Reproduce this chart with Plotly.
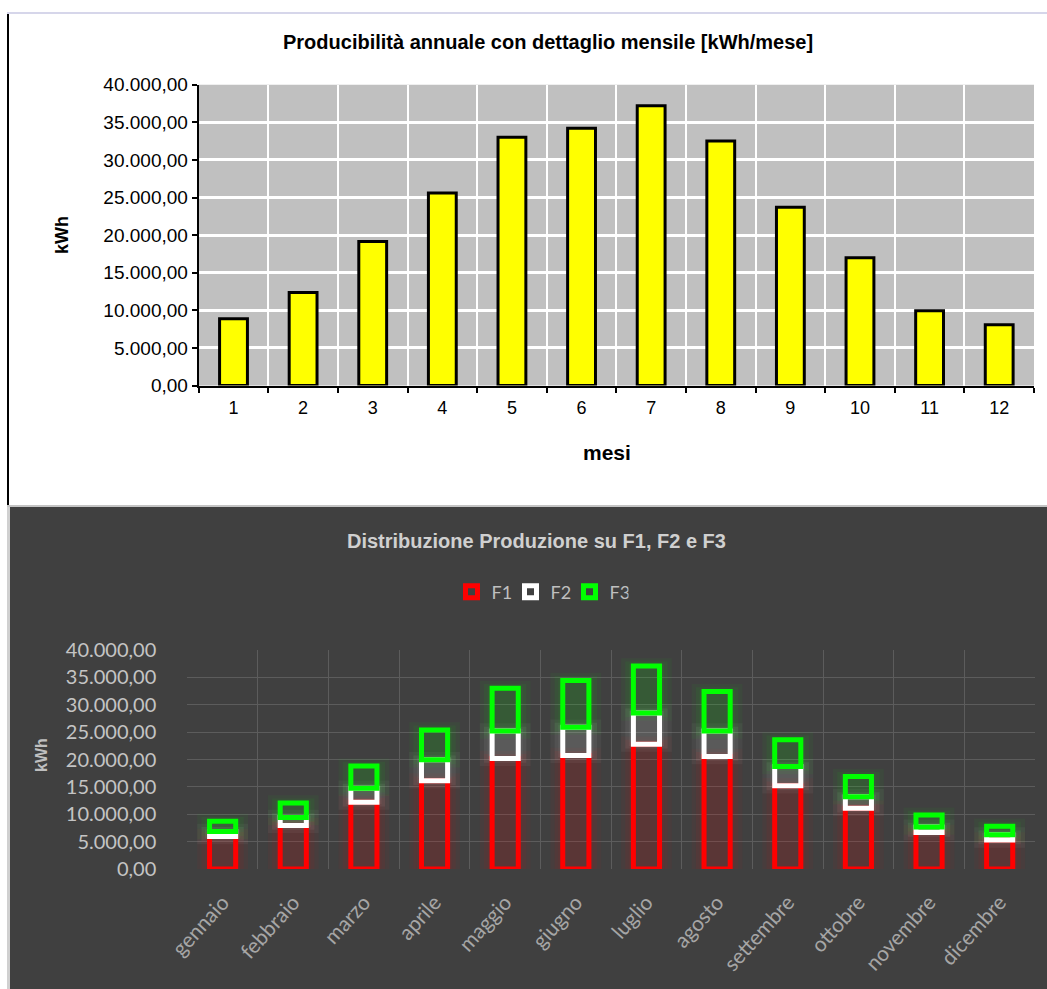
import plotly.graph_objects as go

# ---------------- data ----------------
month_nums = [str(i) for i in range(1, 13)]
month_names = ["gennaio", "febbraio", "marzo", "aprile", "maggio", "giugno",
               "luglio", "agosto", "settembre", "ottobre", "novembre", "dicembre"]
annual_kwh = [8870, 12370, 19160, 25600, 33000, 34200, 37200, 32500, 23700, 17000, 9930, 8070]
f1_kwh = [5940, 7960, 12200, 16100, 20200, 20750, 22800, 20550, 15200, 11100, 6670, 5300]
f2_kwh = [910, 1440, 2550, 3850, 5000, 5150, 5700, 4650, 3500, 2100, 980, 940]
f3_kwh = [1850, 2660, 4050, 5450, 7800, 8550, 8600, 7200, 4900, 3700, 2200, 1590]
series_names = ["F1", "F2", "F3"]
series_colors = [(255, 0, 0), (255, 255, 255), (0, 255, 0)]

W, H = 1047, 989
FONT = "Liberation Sans, Arial, sans-serif"
FONT2 = "Lato, Liberation Sans, sans-serif"

def px_x(p):
    return p / W

def px_y(p):
    return 1 - p / H

fig = go.Figure()

# ---------------- top chart ----------------
fig.add_trace(go.Bar(
    x=month_nums, y=annual_kwh, xaxis="x", yaxis="y",
    width=0.40,
    marker=dict(color="#ffff00", line=dict(color="#000000", width=3)),
    showlegend=False, name="kWh",
))

# ---------------- bottom chart ----------------
series = [f1_kwh, f2_kwh, f3_kwh]
bases = []
run = [0] * 12
for s in series:
    bases.append(list(run))
    run = [a + b for a, b in zip(run, s)]

# soft glow layers (base subplot)
glow_layers = [(0.72, 1400, 0.045), (0.60, 800, 0.055), (0.50, 350, 0.05)]
for s, b, (r, g, bl) in zip(series, bases, series_colors):
    for wdt, ext, alpha in glow_layers:
        fig.add_trace(go.Bar(
            x=month_names, y=[v + 2 * ext for v in s], base=[v - ext for v in b],
            xaxis="x2", yaxis="y2", width=wdt,
            marker=dict(color=f"rgba({r},{g},{bl},{alpha})", line=dict(width=0)),
            showlegend=False, hoverinfo="skip",
        ))

# main outlined stacked bars (overlay subplot)
for name, s, b, (r, g, bl) in zip(series_names, series, bases, series_colors):
    fig.add_trace(go.Bar(
        x=month_names, y=s, base=b, xaxis="x3", yaxis="y3", width=0.37,
        name=name,
        marker=dict(color="rgba(0,0,0,0)", line=dict(color=f"rgb({r},{g},{bl})", width=5)),
    ))

top_x = [px_x(198.7), px_x(1034)]
top_y = [px_y(385.5), px_y(84.7)]
bot_x = [px_x(187.3), px_x(1035)]
bot_y = [px_y(869), px_y(650)]

fig.update_layout(
    width=W, height=H,
    margin=dict(l=0, r=0, t=0, b=0, pad=0, autoexpand=False),
    paper_bgcolor="#ffffff",
    plot_bgcolor="rgba(0,0,0,0)",
    barmode="overlay",
    separators=",.",
    font=dict(family=FONT),
    # top axes
    xaxis=dict(domain=top_x, anchor="y", type="category", range=[-0.5, 11.5],
               tickson="boundaries", ticks="outside", ticklen=5, tickcolor="#000000",
               tickwidth=1.5, showline=True, linecolor="#000000", linewidth=2,
               showgrid=True, gridcolor="#ffffff", gridwidth=1.5, automargin=False,
               ticklabelstandoff=5,
               tickfont=dict(size=18, color="#000000", family=FONT), zeroline=False),
    yaxis=dict(domain=top_y, anchor="x", range=[0, 40000], dtick=5000, tick0=0,
               tickformat=",.2f", ticks="outside", ticklen=5, tickcolor="#000000",
               tickwidth=1.5, showline=True, linecolor="#000000", linewidth=2,
               showgrid=True, gridcolor="#ffffff", gridwidth=3, zeroline=False,
               automargin=False,
               tickfont=dict(size=19, color="#000000", family=FONT)),
    xaxis5=dict(overlaying="x", anchor="y", side="top", type="linear",
                range=[-0.5, 11.5], tick0=0, dtick=1, showgrid=True,
                gridcolor="#ffffff", gridwidth=1.5, showticklabels=False, ticks="",
                showline=True, linecolor="#8c8c8c", linewidth=1.5, zeroline=False,
                automargin=False),
    yaxis5=dict(overlaying="y", anchor="x", side="right", range=[0, 40000],
                showgrid=False, showticklabels=False, ticks="", showline=True,
                linecolor="#8c8c8c", linewidth=1.5, zeroline=False, automargin=False),
    # bottom axes
    xaxis2=dict(domain=bot_x, anchor="y2", type="category", range=[-0.5, 11.5],
                tickson="boundaries", ticks="", showline=False, showgrid=True,
                gridcolor="#5c5c5c", gridwidth=1, tickangle=-48,
                ticklabelstandoff=16, automargin=False,
                tickfont=dict(size=21, color="#a6a6a6", family=FONT2), zeroline=False),
    yaxis2=dict(domain=bot_y, anchor="x2", range=[0, 40000], dtick=5000, tick0=0,
                tickformat=",.2f", ticks="", showline=False, showgrid=True,
                gridcolor="#5c5c5c", gridwidth=1, zeroline=False,
                ticklabelstandoff=30, automargin=False,
                tickfont=dict(size=20, color="#c4c4c4", family=FONT2)),
    xaxis3=dict(overlaying="x2", anchor="y3", type="category", range=[-0.5, 11.5],
                showgrid=False, showticklabels=False, ticks="", showline=False,
                zeroline=False, automargin=False),
    yaxis3=dict(overlaying="y2", anchor="x3", range=[0, 40000], showgrid=False,
                showticklabels=False, ticks="", showline=False, zeroline=False,
                automargin=False),
    legend=dict(orientation="h", x=px_x(540), xanchor="center", y=px_y(592),
                yanchor="middle", bgcolor="rgba(0,0,0,0)", itemwidth=30,
                entrywidth=14, entrywidthmode="pixels",
                font=dict(size=18, color="#bfbfbf", family=FONT2), traceorder="normal"),
    showlegend=True,
)

# frame / panel decorations
shapes = [
    dict(type="rect", xref="paper", yref="paper", x0=px_x(10), x1=1, y0=0, y1=px_y(507),
         fillcolor="#404040", line=dict(width=0), layer="below"),
    dict(type="rect", xref="paper", yref="paper", x0=px_x(7), x1=px_x(10), y0=0, y1=px_y(507),
         fillcolor="#d0d0d0", line=dict(width=0), layer="below"),
    dict(type="rect", xref="paper", yref="paper", x0=px_x(7), x1=1, y0=px_y(507), y1=px_y(505),
         fillcolor="#c4c4c4", line=dict(width=0), layer="below"),
    dict(type="rect", xref="paper", yref="paper", x0=px_x(7), x1=px_x(9), y0=px_y(505), y1=px_y(13),
         fillcolor="#000000", line=dict(width=0), layer="below"),
    dict(type="rect", xref="paper", yref="paper", x0=px_x(7), x1=1, y0=px_y(14), y1=px_y(12),
         fillcolor="#d6d6ea", line=dict(width=0), layer="below"),
    dict(type="rect", xref="x domain", yref="y domain", x0=0, x1=1, y0=0, y1=1,
         fillcolor="#c0c0c0", line=dict(width=0), layer="below"),
]
fig.update_layout(shapes=shapes)

ann_common = dict(xref="paper", yref="paper", showarrow=False,
                  xanchor="center", yanchor="middle")
annotations = [
    dict(text="<b>Producibilità annuale con dettaglio mensile [kWh/mese]</b>",
         x=px_x(548), y=px_y(42),
         font=dict(size=20, color="#000000", family=FONT), **ann_common),
    dict(text="<b>kWh</b>", x=px_x(62), y=px_y(235), textangle=-90,
         font=dict(size=18, color="#000000", family=FONT), **ann_common),
    dict(text="<b>mesi</b>", x=px_x(607), y=px_y(452),
         font=dict(size=21, color="#000000", family=FONT), **ann_common),
    dict(text="<b>Distribuzione Produzione su F1, F2 e F3</b>",
         x=px_x(536), y=px_y(541),
         font=dict(size=20, color="#d0d0d0", family=FONT), **ann_common),
    dict(text="<b>kWh</b>", x=px_x(41), y=px_y(755), textangle=-90,
         font=dict(size=16, color="#bfbfbf", family=FONT), **ann_common),
]
fig.update_layout(annotations=annotations)

fig.write_html(
    "out.html",
    post_script="document.body.style.margin='0';document.body.style.overflow='hidden';",
)
